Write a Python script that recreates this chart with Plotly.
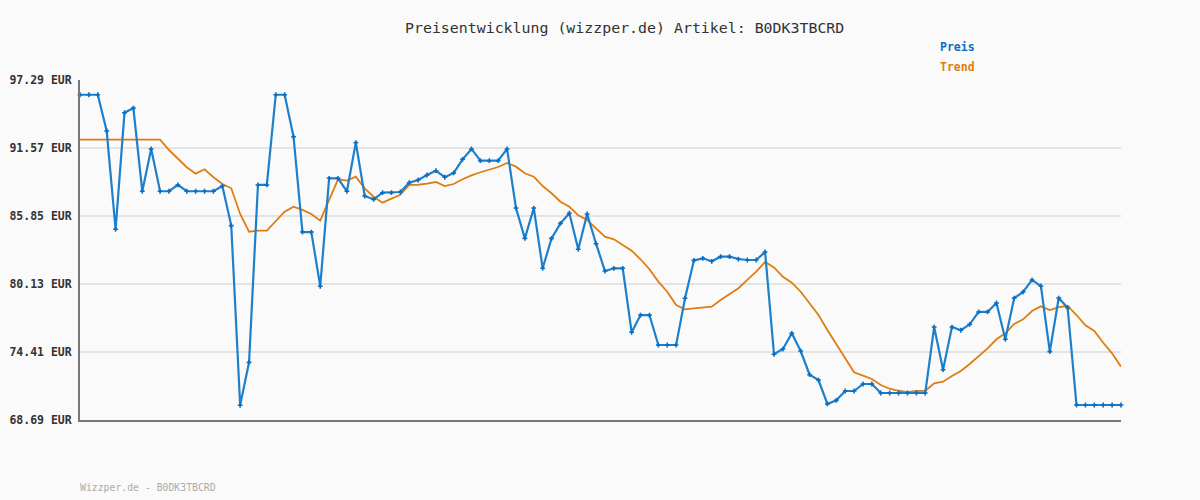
import plotly.graph_objects as go

# ---- data ----
preis = [
    96.05, 96.05, 96.05, 93.00, 84.73, 94.54, 94.93, 87.93, 91.49, 87.93,
    87.93, 88.46, 87.93, 87.93, 87.93, 87.93, 88.37, 85.04, 69.93, 73.54,
    88.46, 88.46, 96.05, 96.05, 92.52, 84.50, 84.50, 79.94, 89.02, 89.02,
    87.93, 92.02, 87.53, 87.25, 87.81, 87.81, 87.87, 88.65, 88.88, 89.30,
    89.66, 89.11, 89.47, 90.62, 91.49, 90.50, 90.50, 90.50, 91.49, 86.52,
    83.97, 86.52, 81.45, 83.97, 85.23, 86.08, 83.05, 86.02, 83.52, 81.22,
    81.45, 81.45, 76.07, 77.52, 77.52, 75.00, 75.00, 75.00, 78.93, 82.12,
    82.29, 82.04, 82.43, 82.43, 82.23, 82.15, 82.15, 82.82, 74.22, 74.66,
    75.98, 74.49, 72.50, 72.05, 70.04, 70.34, 71.13, 71.13, 71.72, 71.72,
    70.96, 70.96, 70.96, 70.96, 70.96, 70.96, 76.51, 72.92, 76.51, 76.24,
    76.74, 77.78, 77.78, 78.53, 75.48, 78.95, 79.46, 80.47, 79.96, 74.44,
    78.95, 78.14, 69.95, 69.95, 69.95, 69.95, 69.95, 69.95,
]

trend = [
    92.27, 92.27, 92.27, 92.27, 92.27, 92.27, 92.27, 92.27, 92.27, 92.27,
    91.40, 90.67, 89.95, 89.41, 89.78, 89.11, 88.54, 88.18, 86.02, 84.53,
    84.62, 84.62, 85.43, 86.21, 86.63, 86.36, 86.02, 85.46, 87.20, 88.94,
    88.82, 89.16, 88.18, 87.47, 86.97, 87.30, 87.64, 88.46, 88.48, 88.57,
    88.71, 88.37, 88.54, 88.94, 89.27, 89.53, 89.78, 89.97, 90.31, 90.00,
    89.44, 89.16, 88.37, 87.76, 87.05, 86.63, 85.91, 85.51, 84.81, 84.11,
    83.89, 83.41, 82.93, 82.21, 81.37, 80.33, 79.48, 78.36, 78.00, 78.08,
    78.14, 78.22, 78.78, 79.29, 79.77, 80.47, 81.17, 81.98, 81.53, 80.74,
    80.24, 79.48, 78.50, 77.52, 76.26, 75.08, 73.88, 72.70, 72.42, 72.14,
    71.63, 71.32, 71.15, 71.04, 71.13, 71.15, 71.77, 71.91, 72.39, 72.81,
    73.40, 74.02, 74.72, 75.48, 75.98, 76.77, 77.16, 77.86, 78.25, 77.94,
    78.19, 78.28, 77.52, 76.65, 76.18, 75.19, 74.30, 73.17,
]

y_ticks = [68.69, 74.41, 80.13, 85.85, 91.57, 97.29]
y_tick_labels = ["68.69 EUR", "74.41 EUR", "80.13 EUR", "85.85 EUR", "91.57 EUR", "97.29 EUR"]

title_text = "Preisentwicklung (wizzper.de) Artikel: B0DK3TBCRD"
footer_text = "Wizzper.de - B0DK3TBCRD"

x = list(range(len(preis)))

BLUE = "#1d80cc"
BLUE_DARK = "#0b6dbf"
ORANGE = "#e07d10"
BG = "#fafafa"
MONO = "DejaVu Sans Mono"

fig = go.Figure()
fig.add_trace(go.Scatter(
    x=list(range(len(trend))), y=trend, mode="lines", name="Trend",
    line=dict(color=ORANGE, width=1.8), cliponaxis=False, showlegend=False,
))
fig.add_trace(go.Scatter(
    x=x, y=preis, mode="lines+markers", name="Preis",
    line=dict(color=BLUE, width=2.2),
    marker=dict(symbol="cross", size=4, color=BLUE_DARK, line=dict(width=0)),
    cliponaxis=False, showlegend=False,
))

fig.update_layout(
    width=1200, height=500,
    paper_bgcolor=BG, plot_bgcolor=BG,
    margin=dict(l=80, r=79, t=80, b=80, autoexpand=False),
    xaxis=dict(
        range=[0, len(preis) - 1], showgrid=False, zeroline=False,
        showticklabels=False, ticks="", automargin=False,
        showline=True, linecolor="#777777", linewidth=2,
    ),
    yaxis=dict(
        range=[y_ticks[0], y_ticks[-1]], tickvals=y_ticks, ticktext=y_tick_labels,
        showgrid=True, gridcolor="#e4e4e4", gridwidth=2, zeroline=False,
        showline=True, linecolor="#777777", linewidth=2, automargin=False,
        ticks="", ticklabelstandoff=4,
        tickfont=dict(family=MONO, size=11.5, color="#333333", weight="bold"),
    ),
    showlegend=False,
    annotations=[
        dict(text=title_text, xref="paper", yref="paper", x=(624 - 80) / 1041, y=1 + (80 - 28) / 340,
             xanchor="center", yanchor="middle", showarrow=False,
             font=dict(family=MONO, size=14.9, color="#333333")),
        dict(text="Preis", xref="paper", yref="paper", x=(938 - 80) / 1041, y=1 + (80 - 47) / 340,
             xanchor="left", yanchor="middle", showarrow=False,
             font=dict(family=MONO, size=11.5, color=BLUE_DARK, weight="bold")),
        dict(text="Trend", xref="paper", yref="paper", x=(938 - 80) / 1041, y=1 + (80 - 67) / 340,
             xanchor="left", yanchor="middle", showarrow=False,
             font=dict(family=MONO, size=11.5, color=ORANGE, weight="bold")),
        dict(text=footer_text, xref="paper", yref="paper", x=-2 / 1041, y=-(487 - 420) / 340,
             xanchor="left", yanchor="middle", showarrow=False,
             font=dict(family=MONO, size=9.8, color="#aaaaaa")),
    ],
)

fig.write_html("out.html")
